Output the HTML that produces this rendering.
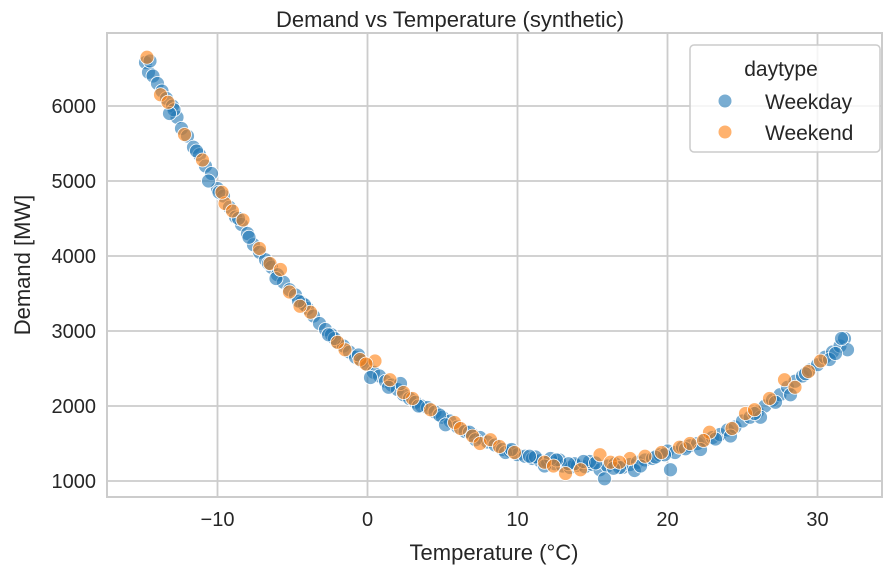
<!DOCTYPE html>
<html><head><meta charset="utf-8"><style>
body{margin:0;background:#fff;}
svg{display:block;font-family:"Liberation Sans","DejaVu Sans",sans-serif;}
</style></head><body>
<svg id="chart" width="891" height="574" viewBox="0 0 891 574">
<g id="grid"></g>
<g id="points"></g>
<rect x="107" y="33" width="775" height="464" fill="none" stroke="#cccccc" stroke-width="2"/>
<g id="ticks"></g>
<text x="450" y="27" text-anchor="middle" font-size="22" fill="#262626">Demand vs Temperature (synthetic)</text>
<text x="494" y="560" text-anchor="middle" font-size="22" fill="#262626">Temperature (°C)</text>
<text transform="translate(30,265) rotate(-90)" text-anchor="middle" font-size="22" fill="#262626">Demand [MW]</text>
<g>
<rect x="690" y="45" width="190" height="107" rx="4" fill="#fff" fill-opacity="0.8" stroke="#cccccc" stroke-width="1.5"/>
<text x="781" y="76" text-anchor="middle" font-size="21" fill="#262626">daytype</text>
<circle cx="725" cy="101" r="7" fill="#1f77b4" fill-opacity="0.6" stroke="#fff"/>
<text x="765" y="109" font-size="21" fill="#262626">Weekday</text>
<circle cx="725" cy="132" r="7" fill="#ff7f0e" fill-opacity="0.6" stroke="#fff"/>
<text x="765" y="140" font-size="21" fill="#262626">Weekend</text>
</g>
</svg>
<script>
const xTicks=[-10,0,10,20,30];
const xTickLabels=["−10","0","10","20","30"];
const yTicks=[1000,2000,3000,4000,5000,6000];
const yTickLabels=["1000","2000","3000","4000","5000","6000"];
const weekdayTemp=[-14.8,-14.6,-14.3,-14.0,-13.7,-13.4,-13.0,-12.7,-12.4,-12.0,-11.6,-11.2,-10.8,-10.4,-10.0,-9.6,-9.2,-8.8,-8.4,-8.0,-7.6,-7.2,-6.8,-6.4,-6.0,-5.6,-5.2,-4.8,-4.4,-4.0,-3.6,-3.2,-2.8,-2.4,-2.0,-1.6,-1.2,-0.8,-0.4,0.0,0.4,0.8,1.2,1.6,2.0,2.4,2.8,3.2,3.6,4.0,4.5,5.0,5.5,6.0,6.5,7.0,7.5,8.0,8.5,9.0,9.5,10.0,10.5,11.0,11.5,12.0,12.5,13.0,13.5,14.0,14.5,15.0,15.5,16.0,16.5,17.0,17.5,18.0,18.5,19.0,19.5,20.0,20.5,21.0,21.5,22.0,22.5,23.0,23.5,24.0,24.5,25.0,25.5,26.0,26.5,27.0,27.5,28.0,28.5,29.0,29.5,30.0,30.5,31.0,31.5,31.8,32.0,-14.5,-12.9,-11.4,-9.9,-7.9,-6.1,-4.2,-2.2,0.2,2.2,4.8,6.8,9.2,11.2,12.8,13.8,15.8,17.8,19.8,20.2,22.2,24.2,26.2,28.2,30.8,31.6,-13.2,-10.6,-8.6,-6.6,-4.6,-2.6,-0.6,1.4,3.4,5.2,7.2,9.6,10.8,12.2,13.4,14.8,16.8,18.2,19.2,21.2,23.2,25.8,27.2,29.2,31.2,11.8,14.4,16.4,12.6,15.2];
const weekdayDemand=[6580,6450,6400,6300,6200,6100,6000,5850,5700,5600,5450,5350,5200,5100,4900,4800,4650,4520,4420,4300,4150,4050,3950,3850,3750,3650,3550,3480,3380,3300,3200,3100,3020,2950,2850,2800,2720,2650,2600,2550,2450,2400,2330,2280,2220,2150,2100,2050,2000,1980,1920,1850,1800,1720,1660,1620,1580,1520,1480,1420,1400,1350,1330,1300,1270,1250,1230,1200,1180,1210,1190,1220,1150,1200,1230,1180,1220,1250,1280,1300,1350,1400,1380,1450,1470,1500,1550,1580,1620,1680,1720,1800,1850,1920,2000,2080,2150,2250,2330,2400,2480,2550,2650,2720,2800,2900,2750,6600,5950,5400,4850,4250,3700,3350,2900,2380,2300,1880,1650,1380,1320,1280,1230,1030,1140,1350,1150,1420,1600,1850,2150,2620,2900,5900,5000,4500,3900,3400,2950,2680,2250,2000,1750,1550,1420,1330,1300,1230,1260,1180,1200,1320,1430,1560,1900,2050,2430,2700,1200,1260,1170,1280,1240];
const weekendTemp=[-14.7,-13.8,-12.2,-11.0,-9.5,-9.0,-8.3,-6.5,-5.8,-5.2,-3.8,-1.5,-0.5,0.5,1.5,3.0,4.2,5.8,7.0,7.5,8.2,9.8,11.8,13.2,14.2,15.5,16.2,17.5,18.5,20.8,21.5,22.8,24.3,25.2,26.8,27.8,28.5,30.2,-13.3,-9.7,-7.2,-4.5,-2.0,-0.1,2.4,6.2,8.8,12.4,16.8,19.6,22.4,25.8,29.4];
const weekendDemand=[6650,6150,5620,5280,4700,4600,4480,3900,3820,3520,3250,2750,2620,2600,2350,2100,1950,1780,1600,1500,1550,1380,1250,1100,1150,1350,1250,1300,1330,1450,1500,1650,1700,1900,2100,2350,2250,2600,6050,4850,4100,3330,2850,2560,2180,1700,1460,1200,1250,1380,1540,1950,2460];
const NS="http://www.w3.org/2000/svg";
const xs=t=>367.5+t*15, ys=d=>481-(d-1000)*0.075;
const grid=document.getElementById('grid'),ticks=document.getElementById('ticks'),pts=document.getElementById('points');
function mk(tag,attrs,parent){const e=document.createElementNS(NS,tag);for(const k in attrs)e.setAttribute(k,attrs[k]);parent.appendChild(e);return e;}
xTicks.forEach((v,i)=>{
 const l=mk('line',{x1:xs(v),x2:xs(v),y1:33,y2:497,stroke:'#cccccc','stroke-width':1.8},grid);
 
 
 const t=mk('text',{x:xs(v),y:526,'text-anchor':'middle','font-size':20,fill:'#262626'},ticks);
 t.textContent=xTickLabels[i];
 
 
});
yTicks.forEach((v,i)=>{
 const l=mk('line',{x1:107,x2:882,y1:ys(v),y2:ys(v),stroke:'#cccccc','stroke-width':1.8},grid);
 
 
 const t=mk('text',{x:96,y:ys(v)+7,'text-anchor':'end','font-size':20,fill:'#262626'},ticks);
 t.textContent=yTickLabels[i];
 
 
});
function draw(temps,dem,color,name){
 temps.forEach((t,i)=>{
  const c=mk('circle',{cx:xs(t),cy:ys(dem[i]),r:7,fill:color,'fill-opacity':0.6,stroke:'#fff','stroke-width':0.8},pts);
  
  
 });
}
draw(weekdayTemp,weekdayDemand,'#1f77b4','point-weekday');
draw(weekendTemp,weekendDemand,'#ff7f0e','point-weekend');
</script>
</body></html>
